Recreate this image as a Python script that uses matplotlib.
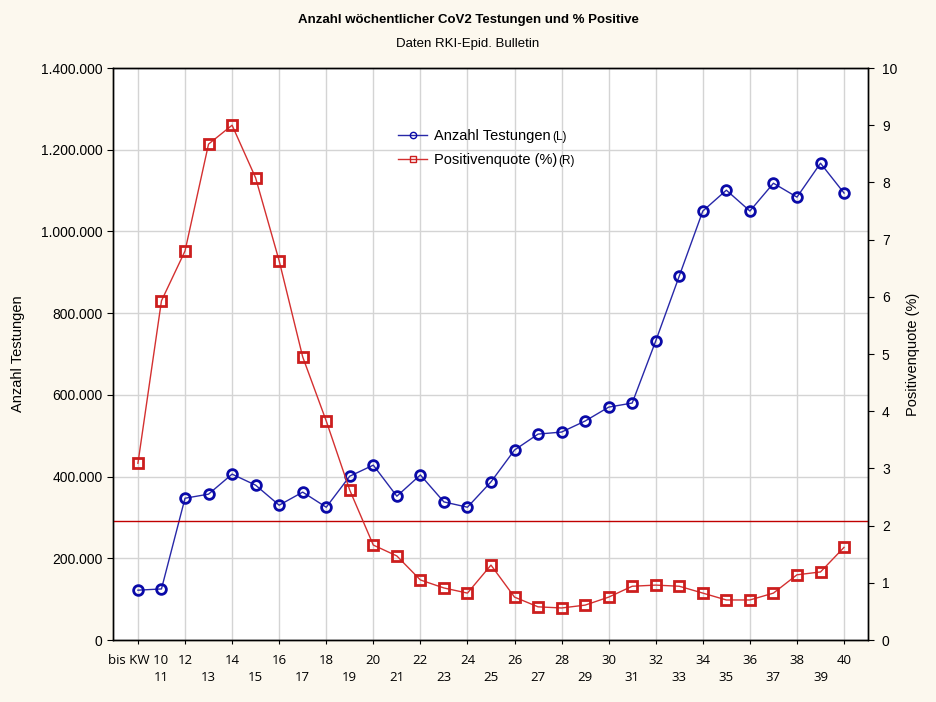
import matplotlib
matplotlib.use("Agg")
import matplotlib.pyplot as plt
from matplotlib.ticker import FuncFormatter, FixedLocator
from matplotlib import font_manager

weeks = ["bis KW 10"] + [str(kw) for kw in range(11, 41)]

tests = [122000, 125000, 347000, 357000, 406000, 379000, 330000, 362000,
         325000, 401000, 428000, 352000, 404000, 338000, 325000, 387000,
         465000, 504000, 509000, 536000, 570000, 580000, 732000, 891000,
         1050000, 1101000, 1050000, 1118000, 1084000, 1167000, 1094000]

positive = [3.09, 5.93, 6.80, 8.67, 9.00, 8.08, 6.63, 4.95, 3.83, 2.62,
            1.66, 1.47, 1.05, 0.91, 0.82, 1.31, 0.75, 0.58, 0.56, 0.61,
            0.75, 0.94, 0.96, 0.94, 0.82, 0.70, 0.70, 0.82, 1.14, 1.19, 1.62]

ref_line = 2.08   # horizontale Linie (rechte Achse)

BG = "#FCF8EE"
BLUE = "#0A0AA8"
RED = "#CC1E1E"


def pick(families):
    names = {f.name for f in font_manager.fontManager.ttflist}
    return [f for f in families if f in names] or ["DejaVu Sans"]


narrow = pick(["Liberation Sans Narrow", "Liberation Sans"])
arial = pick(["Liberation Sans"])
segoe = pick(["Open Sans", "DejaVu Sans"])

fig = plt.figure(figsize=(9.36, 7.02), dpi=100, facecolor=BG)
ax = fig.add_axes([0.1207, 0.0883, 0.8067, 0.8148])
ax.set_facecolor("white")
ax2 = ax.twinx()

x = list(range(len(weeks)))

l1, = ax.plot(x, tests, color="#2828A8", lw=1.0, marker="o", ms=7,
              mfc="none", mec=BLUE, mew=2.0, label="Anzahl Testungen", zorder=3)
l2, = ax2.plot(x, positive, color="#D43030", lw=1.0, marker="s", ms=7.5,
               mfc="none", mec=RED, mew=2.0, label="Positivenquote (%)", zorder=3)
ax2.axhline(ref_line, color="#C00000", lw=1.0, zorder=2)

ax.set_xlim(-1.06, 31.02)
ax.set_ylim(0, 1400000)
ax2.set_ylim(0, 10)

ax.set_yticks(range(0, 1400001, 200000))
ax.yaxis.set_major_formatter(FuncFormatter(lambda v, p: f"{int(v):,}".replace(",", ".")))
ax2.set_yticks(range(0, 11))

# Beschriftung der x-Achse in zwei Zeilen
ax.xaxis.set_major_locator(FixedLocator(x[0::2]))
ax.set_xticklabels(weeks[0::2])
ax.xaxis.set_minor_locator(FixedLocator(x[1::2]))
ax.set_xticklabels(weeks[1::2], minor=True)
ax.tick_params(axis="x", which="major", length=3, pad=7, labelsize=9.5)
ax.tick_params(axis="x", which="minor", length=0, pad=22, labelsize=9.5)
for t in ax.get_xticklabels(which="both"):
    t.set_family(segoe)

ax.tick_params(axis="y", length=4, labelsize=10)
ax2.tick_params(axis="y", length=4, labelsize=10, pad=6)
for t in ax.get_yticklabels() + ax2.get_yticklabels():
    t.set_family(narrow)

ax.grid(True, which="major", color="#D4D4D4", lw=1.0)
ax.set_axisbelow(True)
ax2.set_zorder(ax.get_zorder() + 1)
ax2.patch.set_visible(False)

for a in (ax, ax2):
    for s in a.spines.values():
        s.set_color("black")
        s.set_linewidth(1.0)

ax.set_ylabel("Anzahl Testungen", fontsize=10.5, family=arial)
ax.yaxis.set_label_coords(-0.1166, 0.5)
ax2.set_ylabel("Positivenquote (%)", fontsize=10.5, family=arial)
ax2.yaxis.set_label_coords(1.050, 0.5)

fig.text(0.5, 0.9715, "Anzahl wöchentlicher CoV2 Testungen und % Positive",
         ha="center", va="center", fontsize=9.5, fontweight="bold", family=narrow)
fig.text(0.5, 0.937, "Daten RKI-Epid. Bulletin", ha="center", va="center",
         fontsize=9.5, family=narrow)

leg = ax2.legend(handles=[l1, l2], loc="upper left", bbox_to_anchor=(0.36, 0.916),
                 frameon=False, handlelength=2.0, handletextpad=0.5,
                 labelspacing=0.7, markerscale=0.65,
                 prop={"family": arial, "size": 10.5})
for h in leg.legend_handles:
    h.set_markeredgewidth(1.0)

# kleine Zusätze (L) / (R) hinter den Legendeneinträgen, auf gleicher Grundlinie
fig.canvas.draw()
renderer = fig.canvas.get_renderer()
inv = fig.transFigure.inverted()
for txt, tag in zip(leg.get_texts(), ["(L)", "(R)"]):
    bb = txt.get_window_extent(renderer)
    _, _, descent = renderer.get_text_width_height_descent(
        txt.get_text(), txt.get_fontproperties(), ismath=False)
    x0, y0 = inv.transform((bb.x1 + 1, bb.y0 + descent))
    fig.text(x0, y0, tag, ha="left", va="baseline", fontsize=8.5, family=arial)

fig.savefig("out.png", dpi=100, facecolor=BG)
